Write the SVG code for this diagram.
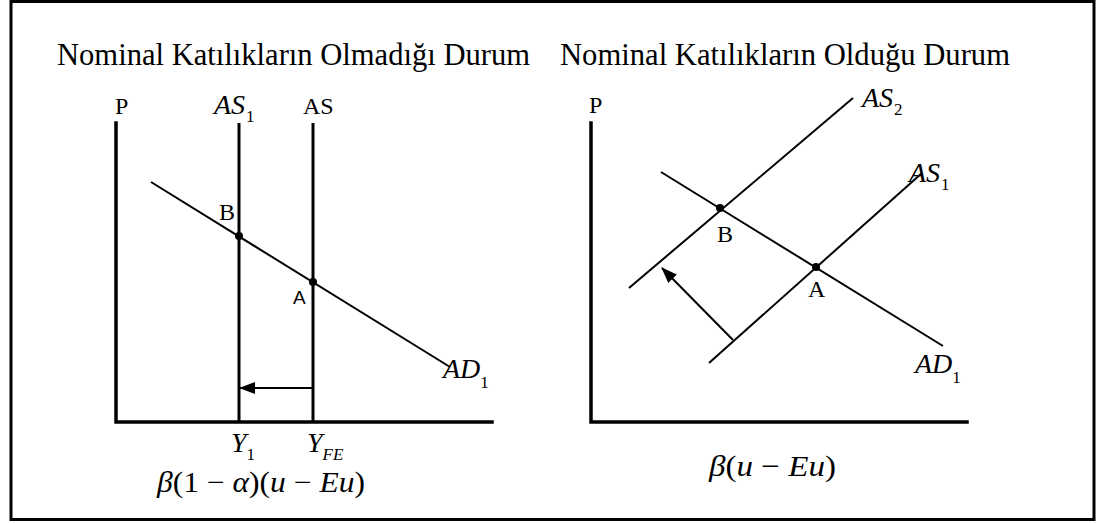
<svg xmlns="http://www.w3.org/2000/svg" width="1096" height="523" viewBox="0 0 1096 523">
<style>
.t{font-family:"Liberation Serif","Times New Roman",serif;fill:#000}
.ti{font-family:"Liberation Serif","Times New Roman",serif;font-style:italic;fill:#000}
.s{font-style:normal;font-size:17px}
.axis{stroke:#000;stroke-width:3.5;fill:none;stroke-linecap:square}
.vl{stroke:#000;stroke-width:3;fill:none}
.ln{stroke:#000;stroke-width:2;fill:none}
</style>
<defs>
<marker id="ah" viewBox="0 0 16 12" refX="15" refY="6" markerWidth="16" markerHeight="12" markerUnits="userSpaceOnUse" orient="auto">
<path d="M0,0 L16,6 L0,12 Z" fill="#000"/>
</marker>
</defs>
<rect x="11" y="1.5" width="1083" height="518" fill="#fff" stroke="#000" stroke-width="3"/>
<text class="t" x="57" y="65" font-size="31" textLength="473" lengthAdjust="spacingAndGlyphs">Nominal Katılıkların Olmadığı Durum</text>
<text class="t" x="560" y="65" font-size="31" textLength="450" lengthAdjust="spacingAndGlyphs">Nominal Katılıkların Olduğu Durum</text>
<g id="left-axes">
<polyline class="axis" points="116,123 116,422 492,422"/>
<text class="t" x="115" y="114" font-size="24">P</text>
</g>
<g id="left-AS1">
<line class="vl" x1="239" y1="123" x2="239" y2="422"/>
<text class="ti" x="214" y="114" font-size="28">AS<tspan class="s" dy="8" dx="1">1</tspan></text>
</g>
<g id="left-AS">
<line class="vl" x1="313" y1="123" x2="313" y2="422"/>
<text class="t" x="303" y="114" font-size="24">AS</text>
</g>
<g id="left-AD1">
<line class="ln" x1="151" y1="182" x2="450" y2="367"/>
<text class="ti" x="443" y="378" font-size="28">AD<tspan class="s" dy="10">1</tspan></text>
</g>
<g id="left-B">
<circle cx="239" cy="236" r="4"/>
<text class="t" x="219" y="220" font-size="24">B</text>
</g>
<g id="left-A">
<circle cx="313" cy="282" r="4"/>
<text x="293" y="304" font-size="19" font-family="Liberation Sans, Arial, sans-serif">A</text>
</g>
<g id="left-xlabels">
<text class="ti" x="231" y="452" font-size="28">Y<tspan class="s" dy="8">1</tspan></text>
<text class="ti" x="307" y="452" font-size="28">Y<tspan class="s" dy="8" style="font-style:italic">FE</tspan></text>
<text class="t" x="157" y="492" font-size="29" textLength="208" lengthAdjust="spacingAndGlyphs"><tspan class="ti">β</tspan>(1 − <tspan class="ti">α</tspan>)(<tspan class="ti">u</tspan> − <tspan class="ti">Eu</tspan>)</text>
</g>
<g id="right-axes">
<polyline class="axis" points="591,123 591,422 967,422"/>
<text class="t" x="589" y="113" font-size="24">P</text>
</g>
<g id="right-AS2">
<line class="ln" x1="853" y1="98" x2="629" y2="288"/>
<text class="ti" x="862" y="107" font-size="28">AS<tspan class="s" dy="8" dx="1">2</tspan></text>
</g>
<g id="right-AS1">
<line class="ln" x1="922" y1="173" x2="709" y2="363"/>
<text class="ti" x="909" y="182" font-size="28">AS<tspan class="s" dy="8" dx="1">1</tspan></text>
</g>
<g id="right-AD1">
<line class="ln" x1="661" y1="172" x2="943" y2="346"/>
<text class="ti" x="915" y="373" font-size="28">AD<tspan class="s" dy="10">1</tspan></text>
</g>
<g id="right-B">
<circle cx="720" cy="208" r="4"/>
<text class="t" x="717" y="242" font-size="24">B</text>
</g>
<g id="right-A">
<circle cx="816" cy="267" r="4"/>
<text class="t" x="808" y="297" font-size="24">A</text>
</g>
<g id="right-xlabel">
<text class="t" x="709" y="476" font-size="30" textLength="127" lengthAdjust="spacingAndGlyphs"><tspan class="ti">β</tspan>(<tspan class="ti">u</tspan> − <tspan class="ti">Eu</tspan>)</text>
</g>
<g id="connectors">
<line class="ln" x1="313" y1="388" x2="240" y2="388" marker-end="url(#ah)"/>
<line class="ln" x1="733" y1="340" x2="662" y2="268" marker-end="url(#ah)"/>
</g>
</svg>
